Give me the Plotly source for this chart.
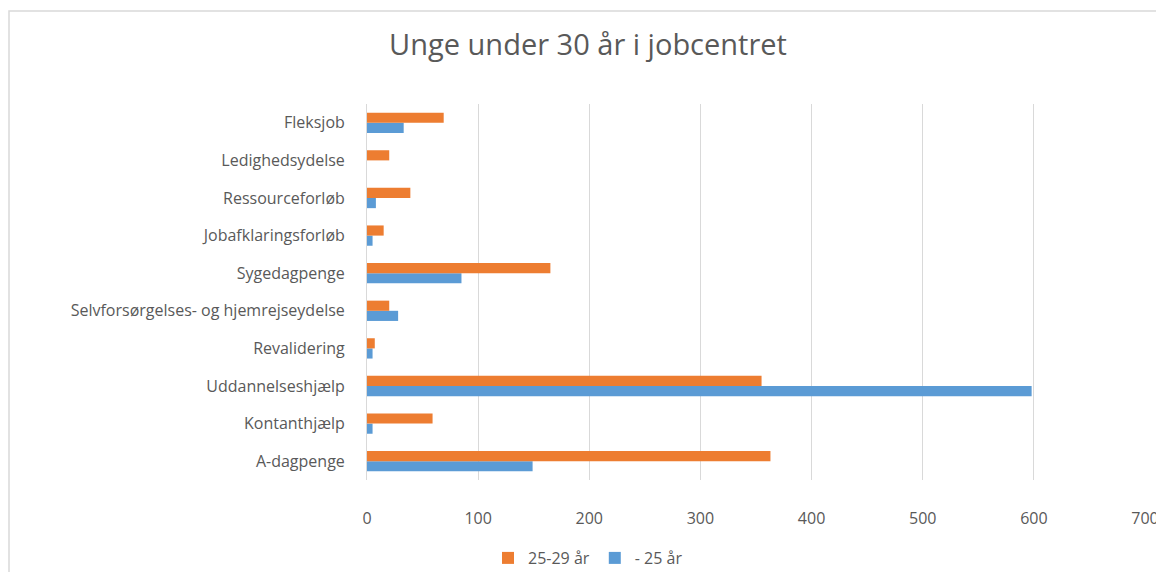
import plotly.graph_objects as go

categories = ["A-dagpenge", "Kontanthjælp", "Uddannelseshjælp", "Revalidering",
              "Selvforsørgelses- og hjemrejseydelse", "Sygedagpenge",
              "Jobafklaringsforløb", "Ressourceforløb", "Ledighedsydelse", "Fleksjob"]
under25 = [149, 5, 598, 5, 28, 85, 5, 8, 0, 33]
age25_29 = [363, 59, 355, 7, 20, 165, 15, 39, 20, 69]
series_names = ["- 25 år", "25-29 år"]
tick_vals = [0, 100, 200, 300, 400, 500, 600, 700]

GRAY = "#595959"
FONT = "Open Sans"
OFF = 8  # page body margin
W, H = 1164 - OFF, 580 - 2 * OFF
PL, PR, PT, PB = 367 - OFF, 1145 - OFF, 104 - OFF, 480 - OFF
PW, PH = PR - PL, PB - PT

fig = go.Figure()
fig.add_trace(go.Bar(y=categories, x=under25, name=series_names[0], orientation="h",
                     marker=dict(color="#5b9bd5", line=dict(width=0))))
fig.add_trace(go.Bar(y=categories, x=age25_29, name=series_names[1], orientation="h",
                     marker=dict(color="#ed7d31", line=dict(width=0))))

fig.update_layout(
    width=W, height=H, autosize=False,
    margin=dict(l=PL, r=W - PR, t=PT, b=H - PB, autoexpand=False),
    paper_bgcolor="white", plot_bgcolor="white",
    barmode="group", bargap=0.46, bargroupgap=0,
    font=dict(family=FONT, color=GRAY, size=14),
    title=dict(text="Unge under 30 år i jobcentret", x=(588 - OFF) / W, xref="container",
               xanchor="center", y=1 - (45 - OFF) / H, yanchor="middle",
               font=dict(family=FONT, size=29, color=GRAY)),
    legend=dict(orientation="h", x=(588 - 367) / PW, xanchor="center",
                y=-(558 - 480) / PH, yanchor="middle",
                traceorder="reversed", font=dict(size=16, color=GRAY),
                itemwidth=30, bgcolor="rgba(0,0,0,0)"),
    xaxis=dict(range=[0, 700], tickvals=tick_vals, showgrid=True, gridcolor="#d9d9d9",
               gridwidth=1, zeroline=False, showline=False, ticks="",
               ticklabelstandoff=27, tickfont=dict(size=16, color=GRAY)),
    yaxis=dict(type="category", categoryorder="array", categoryarray=categories,
               showgrid=False, zeroline=False, showline=True, linecolor="#d9d9d9",
               linewidth=1, ticks="", ticklabelstandoff=18,
               tickfont=dict(size=16, color=GRAY)),
    shapes=[dict(type="rect", xref="paper", yref="paper",
                 x0=(9 - 367) / PW, x1=(1185 - 367) / PW,
                 y0=(480 - 600) / PH, y1=1 + (104 - 11) / PH,
                 line=dict(color="#d9d9d9", width=1.5), fillcolor="rgba(0,0,0,0)",
                 layer="below")],
)

fig.write_html("out.html")
